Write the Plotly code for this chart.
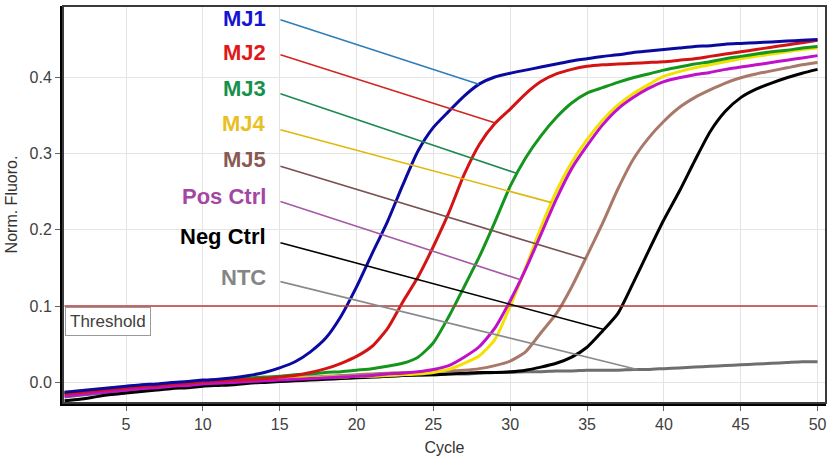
import numpy as np
import plotly.graph_objects as go

cycles = list(range(1, 51))

mj1 = [-0.013, -0.011, -0.009, -0.007, -0.005, -0.003, -0.002, 0.000, 0.001, 0.003,
       0.004, 0.006, 0.009, 0.013, 0.019, 0.027, 0.040, 0.058, 0.087, 0.125,
       0.168, 0.210, 0.258, 0.303, 0.334, 0.355, 0.375, 0.391, 0.400, 0.405,
       0.409, 0.413, 0.417, 0.421, 0.424, 0.427, 0.429, 0.432, 0.434, 0.436,
       0.438, 0.440, 0.441, 0.443, 0.444, 0.445, 0.446, 0.447, 0.448, 0.449]
mj2 = [-0.015, -0.013, -0.011, -0.009, -0.007, -0.005, -0.004, -0.002, -0.001, 0.001,
       0.002, 0.003, 0.004, 0.005, 0.007, 0.009, 0.013, 0.018, 0.025, 0.034,
       0.047, 0.070, 0.105, 0.138, 0.178, 0.222, 0.272, 0.312, 0.339, 0.358,
       0.378, 0.394, 0.404, 0.410, 0.414, 0.416, 0.417, 0.418, 0.419, 0.420,
       0.422, 0.424, 0.427, 0.430, 0.433, 0.436, 0.439, 0.442, 0.445, 0.448]
mj3 = [-0.014, -0.012, -0.010, -0.008, -0.006, -0.004, -0.003, -0.001, 0.000, 0.001,
       0.003, 0.004, 0.006, 0.007, 0.008, 0.010, 0.011, 0.013, 0.014, 0.016,
       0.018, 0.021, 0.025, 0.033, 0.052, 0.086, 0.125, 0.165, 0.210, 0.257,
       0.294, 0.323, 0.347, 0.366, 0.379, 0.386, 0.393, 0.399, 0.404, 0.409,
       0.413, 0.417, 0.420, 0.424, 0.427, 0.430, 0.433, 0.435, 0.438, 0.440]
mj4 = [-0.013, -0.011, -0.009, -0.007, -0.006, -0.004, -0.003, -0.001, 0.000, 0.001,
       0.002, 0.003, 0.004, 0.005, 0.005, 0.006, 0.006, 0.007, 0.007, 0.008,
       0.008, 0.009, 0.010, 0.011, 0.013, 0.017, 0.025, 0.035, 0.056, 0.100,
       0.150, 0.203, 0.250, 0.288, 0.318, 0.343, 0.363, 0.378, 0.390, 0.401,
       0.407, 0.412, 0.416, 0.420, 0.424, 0.427, 0.430, 0.433, 0.436, 0.438]
mj5 = [-0.016, -0.014, -0.012, -0.010, -0.008, -0.006, -0.005, -0.003, -0.002, 0.000,
       0.001, 0.002, 0.003, 0.004, 0.005, 0.006, 0.007, 0.008, 0.009, 0.010,
       0.011, 0.012, 0.013, 0.013, 0.014, 0.015, 0.016, 0.018, 0.022, 0.028,
       0.040, 0.065, 0.090, 0.125, 0.166, 0.208, 0.253, 0.292, 0.320, 0.342,
       0.360, 0.373, 0.383, 0.392, 0.399, 0.404, 0.408, 0.412, 0.416, 0.419]
pos_ctrl = [-0.018, -0.016, -0.014, -0.012, -0.010, -0.008, -0.007, -0.005, -0.004, -0.002,
            -0.001, 0.000, 0.001, 0.002, 0.003, 0.004, 0.005, 0.006, 0.007, 0.008,
            0.009, 0.011, 0.012, 0.014, 0.017, 0.022, 0.033, 0.047, 0.071, 0.107,
            0.148, 0.194, 0.240, 0.280, 0.310, 0.337, 0.358, 0.373, 0.385, 0.394,
            0.399, 0.403, 0.406, 0.410, 0.413, 0.416, 0.419, 0.422, 0.425, 0.428]
neg_ctrl = [-0.024, -0.022, -0.019, -0.016, -0.014, -0.012, -0.010, -0.008, -0.007, -0.005,
            -0.004, -0.003, -0.001, 0.000, 0.001, 0.002, 0.003, 0.004, 0.005, 0.006,
            0.007, 0.008, 0.009, 0.010, 0.010, 0.011, 0.012, 0.013, 0.013, 0.014,
            0.016, 0.020, 0.025, 0.033, 0.046, 0.067, 0.090, 0.130, 0.172, 0.213,
            0.250, 0.290, 0.328, 0.355, 0.373, 0.384, 0.392, 0.399, 0.405, 0.410]
ntc = [-0.019, -0.017, -0.015, -0.013, -0.011, -0.009, -0.008, -0.006, -0.005, -0.003,
       -0.002, -0.001, 0.000, 0.001, 0.002, 0.003, 0.004, 0.005, 0.006, 0.007,
       0.007, 0.008, 0.009, 0.009, 0.010, 0.011, 0.011, 0.012, 0.013, 0.013,
       0.014, 0.014, 0.015, 0.015, 0.016, 0.016, 0.016, 0.017, 0.017, 0.018,
       0.019, 0.020, 0.021, 0.022, 0.023, 0.024, 0.025, 0.026, 0.027, 0.027]

threshold = 0.1

names = ["MJ1", "MJ2", "MJ3", "MJ4", "MJ5", "Pos Ctrl", "Neg Ctrl", "NTC"]
series = [mj1, mj2, mj3, mj4, mj5, pos_ctrl, neg_ctrl, ntc]
curve_colors = ["#0a0aa0", "#d41414", "#14961e", "#f2e200", "#a87868", "#c010c8", "#000000", "#6e6e6e"]
label_colors = ["#1414d2", "#e01818", "#14914b", "#e9c023", "#8a5a52", "#a347a3", "#000000", "#858585"]
pointer_colors = ["#2c7fb8", "#d42424", "#1e8a50", "#e0b80a", "#7a5050", "#a55aa5", "#000000", "#8a8a8a"]
# label anchor (y, value units) and where each pointer meets its curve (cycle)
label_y = [0.476, 0.432, 0.385, 0.339, 0.292, 0.243, 0.191, 0.137]
pointer_start_y = [0.475, 0.429, 0.378, 0.331, 0.283, 0.237, 0.183, 0.132]
pointer_end_cycle = [27.96, 29.04, 30.45, 32.69, 34.9, 30.67, 36.1, 38.27]
label_x = 14.25
pointer_start_x = 15.05

fig = go.Figure()

draw_order = [7, 6, 4, 3, 5, 2, 1, 0]
for i in draw_order:
    fig.add_trace(go.Scatter(
        x=cycles, y=series[i], mode="lines", name=names[i],
        line=dict(color=curve_colors[i], width=3, shape="spline", smoothing=0.6),
        showlegend=False, hoverinfo="skip"))

# threshold line
fig.add_trace(go.Scatter(x=[cycles[0], cycles[-1]], y=[threshold, threshold], mode="lines",
                         line=dict(color="#b83838", width=1.5), showlegend=False, hoverinfo="skip"))

# pointer lines from labels to curves
for i in range(len(names)):
    xe = pointer_end_cycle[i]
    ye = float(np.interp(xe, cycles, series[i]))
    fig.add_trace(go.Scatter(x=[pointer_start_x, xe], y=[pointer_start_y[i], ye], mode="lines",
                             line=dict(color=pointer_colors[i], width=1.6),
                             showlegend=False, hoverinfo="skip"))
    fig.add_annotation(x=label_x, y=label_y[i], xref="x", yref="y", text="<b>%s</b>" % names[i],
                       showarrow=False, xanchor="right", yanchor="middle",
                       font=dict(family="Liberation Sans, Arial, sans-serif",
                                 size=22, color=label_colors[i]))

fig.add_annotation(x=1.0, y=threshold, xref="x", yref="y", text="Threshold", showarrow=False,
                   xanchor="left", yanchor="top", yshift=-1,
                   font=dict(family="Liberation Sans, Arial, sans-serif", size=17, color="#404040"),
                   bordercolor="#9a9a9a", borderwidth=1, borderpad=4, bgcolor="white")

# outer frame (top/right thinner dark grey)
fig.add_shape(type="rect", xref="paper", yref="paper", x0=0, y0=0, x1=1, y1=1,
              line=dict(color="#3a3a3a", width=2), layer="above")

fig.update_layout(
    width=833, height=460,
    margin=dict(l=63, r=7, t=6, b=57),
    paper_bgcolor="white", plot_bgcolor="white",
    font=dict(family="Liberation Sans, Arial, sans-serif", size=16, color="#333333"),
)
fig.update_xaxes(range=[0.9, 50.55], tick0=0, dtick=5, ticks="outside", ticklen=5, tickcolor="#666",
                 showgrid=True, gridcolor="#e4e4e4", gridwidth=1, zeroline=False,
                 showline=True, linecolor="black", linewidth=3,
                 title=dict(text="Cycle", standoff=10, font=dict(size=16, color="#333")),
                 tickfont=dict(size=16, color="#404040"))
fig.update_yaxes(range=[-0.027, 0.493], tick0=0, dtick=0.1, tickformat=".1f", ticks="outside", ticklen=5,
                 tickcolor="#666", showgrid=True, gridcolor="#e4e4e4", gridwidth=1, zeroline=False,
                 showline=True, linecolor="black", linewidth=3,
                 title=dict(text="Norm. Fluoro.", standoff=8, font=dict(size=16, color="#333")),
                 tickfont=dict(size=16, color="#404040"))

fig.write_html("out.html")
